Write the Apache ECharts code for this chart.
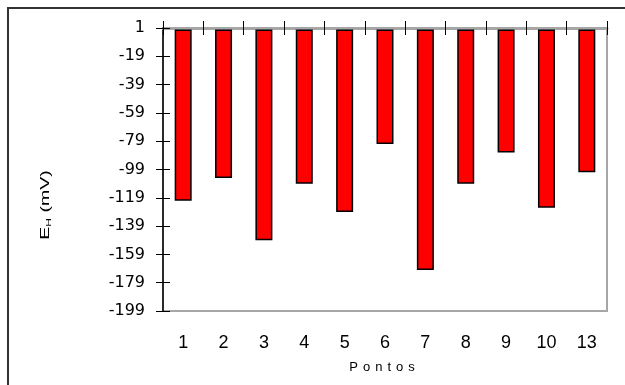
<!DOCTYPE html>
<html>
<head>
<meta charset="utf-8">
<script src="https://cdn.jsdelivr.net/npm/echarts@6/dist/echarts.min.js"></script>
<style>
  html, body { margin: 0; padding: 0; background: #fff; }
  #chart { width: 625px; height: 385px; }
</style>
</head>
<body>
<div id="chart"></div>
<script>
// Measurement points and their hydrogen potential E_H (mV)
const pontos = ['1', '2', '3', '4', '5', '6', '7', '8', '9', '10', '13'];
const ehValues = [-121, -105, -149, -109, -129, -81, -170, -109, -87, -126, -101];

// Value axis range and step (ticks run from the minimum: -199, -179, ... 1)
const yMin = -199;
const yMax = 1;
const yStep = 20;

// Axis titles
const xTitle = 'Pontos';
const yTitleMain = 'E';
const yTitleSub = 'H';
const yTitleUnit = ' (mV)';

const FONT = 'Liberation Sans, Arial, sans-serif';
const WIDE_FONT = 'DejaVu Sans, Liberation Sans, sans-serif';

const chart = echarts.init(document.getElementById('chart'), null, { renderer: 'canvas' });

const valueAxisBase = {
  type: 'value',
  min: yMin,
  max: yMax,
  interval: yStep,
  splitLine: { show: false }
};

// letter-spaced x title: one rich segment per letter
const spacedTitle = xTitle.split('').map(ch => '{l|' + ch + '}').join('');

chart.setOption({
  animation: false,
  backgroundColor: '#ffffff',
  grid: {
    left: 163, top: 28, right: 18, bottom: 74,
    show: true,
    borderColor: '#a6a6a6',
    borderWidth: 2,
    backgroundColor: 'transparent'
  },
  xAxis: [
    {
      // top axis carrying the bars, ticks on the outer side
      type: 'category',
      data: pontos,
      position: 'top',
      axisLine: { show: true, onZero: false, lineStyle: { color: '#a6a6a6', width: 3 } },
      axisTick: { show: true, inside: false, length: 7, lineStyle: { color: '#000', width: 1 } },
      axisLabel: { show: false },
      splitLine: { show: false }
    },
    {
      // same axis, inner half of the crossing ticks
      type: 'category',
      data: pontos,
      position: 'top',
      axisLine: { show: false, onZero: false },
      axisTick: { show: true, inside: true, length: 7, lineStyle: { color: '#000', width: 1 } },
      axisLabel: { show: false },
      splitLine: { show: false }
    },
    {
      // category labels along the bottom
      type: 'category',
      data: pontos,
      position: 'bottom',
      axisLine: { show: false, onZero: false },
      axisTick: { show: false },
      axisLabel: { show: true, margin: 23, fontSize: 18, color: '#000', fontFamily: FONT },
      splitLine: { show: false }
    }
  ],
  yAxis: [
    Object.assign({}, valueAxisBase, {
      position: 'left',
      axisLine: { show: true, onZero: false, lineStyle: { color: '#000', width: 1.5 } },
      axisTick: { show: true, inside: false, length: 7, lineStyle: { color: '#000', width: 1 } },
      axisLabel: { show: true, margin: 18, fontSize: 16, color: '#000', fontFamily: WIDE_FONT }
    }),
    Object.assign({}, valueAxisBase, {
      position: 'left',
      axisLine: { show: false, onZero: false },
      axisTick: { show: true, inside: true, length: 7, lineStyle: { color: '#000', width: 1 } },
      axisLabel: { show: false }
    })
  ],
  series: [
    {
      type: 'bar',
      xAxisIndex: 0,
      yAxisIndex: 0,
      data: ehValues,
      barWidth: 17,
      itemStyle: { color: '#ff0000', borderColor: '#000', borderWidth: 1.5 }
    }
  ],
  graphic: [
    {
      // outer chart frame
      type: 'rect',
      shape: { x: 8, y: 8, width: 700, height: 500 },
      style: { fill: 'none', stroke: '#333', lineWidth: 2 },
      silent: true
    },
    {
      // rotated value-axis title, drawn wide along its reading direction
      type: 'text',
      x: 45,
      y: 205,
      rotation: Math.PI / 2,
      scaleX: 1.5,
      style: {
        text: '{m|' + yTitleMain + '}{s|' + yTitleSub + '}{m|' + yTitleUnit + '}',
        align: 'center',
        verticalAlign: 'middle',
        fill: '#000',
        rich: {
          m: { fontSize: 13, fontFamily: FONT, fill: '#000' },
          s: { fontSize: 8, fontFamily: FONT, fill: '#000', verticalAlign: 'bottom', padding: [8, 0, 0, 0] }
        }
      }
    },
    {
      type: 'text',
      x: 382,
      y: 367,
      style: {
        text: spacedTitle,
        align: 'center',
        verticalAlign: 'middle',
        fill: '#000',
        rich: {
          l: { fontSize: 13, fontFamily: FONT, fill: '#000', padding: [0, 2.5, 0, 2.5] }
        }
      }
    }
  ]
});
</script>
</body>
</html>
